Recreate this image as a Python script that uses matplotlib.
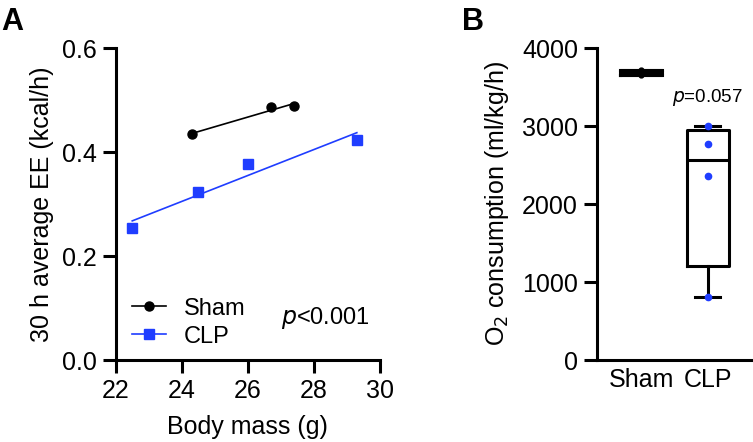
import numpy as np
import matplotlib
matplotlib.use("Agg")
import matplotlib.pyplot as plt

plt.rcParams['font.family'] = ['Liberation Sans', 'DejaVu Sans']

# panel A: body mass vs energy expenditure
sham_mass = [24.3, 26.7, 27.4]
sham_ee = [0.434, 0.487, 0.488]
clp_mass = [22.5, 24.5, 26.0, 29.3]
clp_ee = [0.253, 0.3225, 0.3775, 0.424]

# panel B: O2 consumption
groups = ['Sham', 'CLP']
sham_o2 = [3655, 3680, 3720]
clp_o2 = [812, 2365, 2775, 3005]

blue = '#1f3dff'
lw_ax = 2.2

fig = plt.figure(figsize=(7.53, 4.42), dpi=100)
axA = fig.add_axes([0.1537, 0.1855, 0.3509, 0.7059])
axB = fig.add_axes([0.7924, 0.1855, 0.2060, 0.7059])


def style_axes(ax):
    for s in ['top', 'right']:
        ax.spines[s].set_visible(False)
    for s in ['left', 'bottom']:
        ax.spines[s].set_linewidth(lw_ax)
    ax.tick_params(width=lw_ax, length=9.5, labelsize=18, pad=4)


# ---- panel A
style_axes(axA)
for xs, ys, c, m, ms, lab in [(sham_mass, sham_ee, 'black', 'o', 6.5, 'Sham'),
                              (clp_mass, clp_ee, blue, 's', 7, 'CLP')]:
    k, b = np.polyfit(xs, ys, 1)
    xx = np.array([min(xs), max(xs)])
    axA.plot(xx, k * xx + b, color=c, lw=1.2, zorder=2)
    axA.plot(xs, ys, ls='none', marker=m, ms=ms, color=c, zorder=3)
    axA.plot([], [], color=c, lw=1.2, marker=m, ms=ms, label=lab)

axA.set_xlim(22, 30)
axA.set_ylim(0, 0.6)
axA.set_xticks([22, 24, 26, 28, 30])
axA.set_yticks([0.0, 0.2, 0.4, 0.6])
axA.set_yticklabels(['0.0', '0.2', '0.4', '0.6'])
axA.set_xlabel('Body mass (g)', fontsize=18, labelpad=9)
axA.set_ylabel('30 h average EE (kcal/h)', fontsize=18, labelpad=6)
axA.legend(loc='lower left', bbox_to_anchor=(0.06, 0.04), frameon=False,
           fontsize=17, handlelength=1.45, handletextpad=0.75,
           labelspacing=0.25, borderpad=0, borderaxespad=0)
axA.text(29.7, 0.081, r'$p$<0.001', fontsize=17, ha='right', va='center')
fig.text(0.002, 0.985, 'A', fontsize=22, fontweight='bold', va='top')

# ---- panel B
style_axes(axB)
stats = []
for lab, vals in zip(groups, [sham_o2, clp_o2]):
    q1, med, q3 = np.percentile(vals, [25, 50, 75], method='weibull')
    stats.append(dict(label=lab, med=med, q1=q1, q3=q3,
                      whislo=min(vals), whishi=max(vals), fliers=[]))
props = dict(color='black', linewidth=lw_ax)
axB.bxp(stats, positions=[0, 1], widths=0.634, capwidths=[0.634, 0.375],
        boxprops=props, whiskerprops=props, capprops=props, medianprops=props,
        showfliers=False)
axB.plot(np.zeros(len(sham_o2)), sham_o2, ls='none', marker='o', ms=3.5,
         color='black', zorder=3)
axB.plot(np.ones(len(clp_o2)), clp_o2, ls='none', marker='o', ms=4.5,
         color=blue, zorder=3)

axB.set_xlim(-0.665, 1.66)
axB.set_ylim(0, 4000)
axB.set_yticks([0, 1000, 2000, 3000, 4000])
axB.set_xticks([0, 1])
axB.set_xticklabels(groups)
axB.tick_params(axis='x', length=0, pad=6)
axB.set_ylabel('O$_2$ consumption (ml/kg/h)', fontsize=18, labelpad=8)
axB.text(1, 3364, r'$p$=0.057', fontsize=13.5, ha='center', va='center')
fig.text(0.613, 0.985, 'B', fontsize=22, fontweight='bold', va='top')

fig.savefig('out.png', dpi=100)
